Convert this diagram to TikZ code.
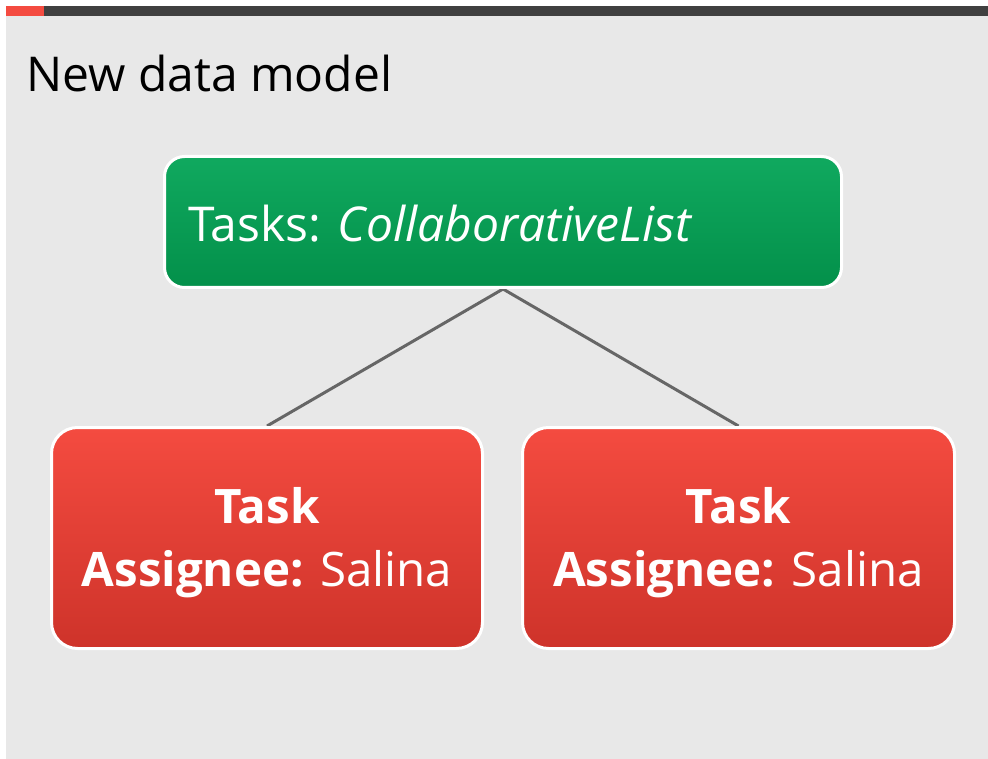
\documentclass[tikz,border=0pt]{standalone}
\usepackage{fontspec}
\setmainfont{Open Sans}
\definecolor{bggray}{HTML}{E8E8E8}
\definecolor{bardark}{HTML}{404040}
\definecolor{barred}{HTML}{F44B40}
\definecolor{greentop}{HTML}{10A95F}
\definecolor{greenbot}{HTML}{03904A}
\definecolor{redtop}{HTML}{F44B40}
\definecolor{redbot}{HTML}{CE332A}
\definecolor{linkgray}{HTML}{666666}
\pgfdeclarelayer{background}
\pgfsetlayers{background,main}
\tikzset{
  box/.style={draw=white, line width=3pt, inner sep=0pt, rounded corners=22pt},
  greenbox/.style={box, top color=greentop, bottom color=greenbot, minimum width=677pt, minimum height=131pt, rounded corners=20pt},
  redbox/.style={box, top color=redtop, bottom color=redbot, minimum height=221pt, rounded corners=26pt},
  link/.style={draw=linkgray, line width=3pt},
  boxtext/.style={text=white, inner sep=0pt, font=\fontsize{47.5}{63}\selectfont, align=center},
}
\begin{document}
\begin{tikzpicture}[x=1pt, y=-1pt]
\useasboundingbox (0,0) rectangle (988,759);
\node[anchor=base west, inner sep=0pt, font=\fontsize{48}{50}\selectfont] (title) at (26,92) {New data model};
\node[greenbox] (tasks) at (503,222) {};
\node[anchor=base west, inner sep=0pt, text=white, font=\fontsize{48}{55}\selectfont] (taskslabel) at (188,242) {Tasks: \textit{CollaborativeList}};
\node[redbox, minimum width=431pt] (taskA) at (267,538) {};
\node[redbox, minimum width=432pt] (taskB) at (738.5,538) {};
\node[boxtext] (taskAtext) at (267,543) {\textbf{Task}\\\textbf{Assignee:} Salina};
\node[boxtext] (taskBtext) at (738.5,543) {\textbf{Task}\\\textbf{Assignee:} Salina};
\begin{pgfonlayer}{background}
\fill[white] (0,0) rectangle (988,759);
\fill[bggray] (6,6) rectangle (988,759);
\fill[bardark] (6,6) rectangle (988,16);
\fill[barred] (6,6) rectangle (44,16);
\draw[link] (tasks.south) -- (taskA.north);
\draw[link] (tasks.south) -- (taskB.north);
\end{pgfonlayer}
\end{tikzpicture}
\end{document}
